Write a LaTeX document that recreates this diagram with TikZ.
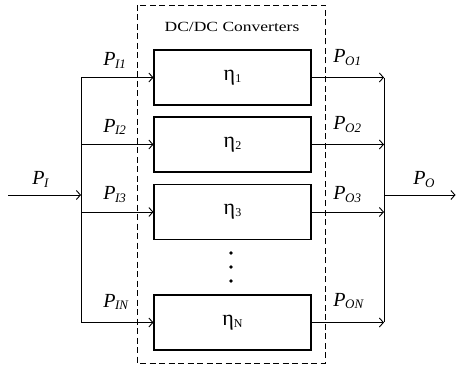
\documentclass[tikz,border=0pt]{standalone}
\usepackage{fontspec}
\setmainfont{Liberation Serif}
\usetikzlibrary{arrows.meta}

% power label P with an italic subscript
\newcommand{\pwr}[1]{{\fontsize{20}{20}\selectfont\itshape P\kern-0.5pt\raisebox{-2.5pt}{\fontsize{13}{13}\selectfont #1}}}
% efficiency eta with an upright subscript
\newcommand{\eff}[1]{{\fontsize{22}{22}\selectfont η\raisebox{-2pt}{\fontsize{12}{12}\selectfont #1}}}

\begin{document}
\begin{tikzpicture}[x=1pt,y=-1pt,line width=0.9pt,
  conv/.style={draw,line width=1.1pt,minimum width=157pt,minimum height=55pt,inner sep=0pt},
  flow/.style={-{Straight Barb[length=4pt,width=9pt]}},
  lbl/.style={anchor=base west,inner sep=0pt},
  frame/.style={dash pattern=on 6pt off 3.5pt,line width=0.9pt}]
\useasboundingbox (0,0) rectangle (456,369);

% converter group frame
\draw[frame] (137,5) rectangle (325,363);
\node[anchor=base,inner sep=0pt] (title) at (232,32)
  {\fontsize{14}{14}\selectfont\scalebox{1.25}[1]{DC/DC Converters}};

% converter blocks
\node[conv] (c1) at (232.5,77.5) {\eff{1}};
\node[conv] (c2) at (232.5,144.5) {\eff{2}};
\node[conv] (c3) at (232.5,212) {\eff{3}};
\node[conv] (cN) at (232.5,322.5) {\eff{N}};

% vertical ellipsis between block 3 and block N
\fill (231,253) circle (1.8pt);
\fill (231,267) circle (1.8pt);
\fill (231,281) circle (1.8pt);

% input and output buses
\coordinate (iT) at (81,78);
\coordinate (iB) at (81,322);
\coordinate (oT) at (384,78);
\coordinate (oB) at (384,322);
\draw (iT) -- (iB);
\draw (oT) -- (oB);

% main input and output
\coordinate (src) at (8,195);
\coordinate (iJ) at (81,195);
\coordinate (oJ) at (384,195);
\coordinate (load) at (455.5,195);
\draw[flow] (src) -- (iJ);
\draw[flow] (oJ) -- (load);

% branch flows
\foreach \k in {1,2,3,N}{
  \draw[flow] (iT |- c\k.west) -- (c\k.west);
  \draw[flow] (c\k.east) -- (oT |- c\k.east);
}

% labels
\node[lbl] (pI) at (32,185) {\pwr{I}};
\node[lbl] (pO) at (413,185) {\pwr{O}};
\node[lbl] (pI1) at (103,66) {\pwr{I1}};
\node[lbl] (pI2) at (103,132) {\pwr{I2}};
\node[lbl] (pI3) at (103,200) {\pwr{I3}};
\node[lbl] (pIN) at (103,307) {\pwr{IN}};
\node[lbl] (pO1) at (333,63) {\pwr{O1}};
\node[lbl] (pO2) at (333,130) {\pwr{O2}};
\node[lbl] (pO3) at (333,200) {\pwr{O3}};
\node[lbl] (pON) at (333,306) {\pwr{ON}};
\end{tikzpicture}
\end{document}
